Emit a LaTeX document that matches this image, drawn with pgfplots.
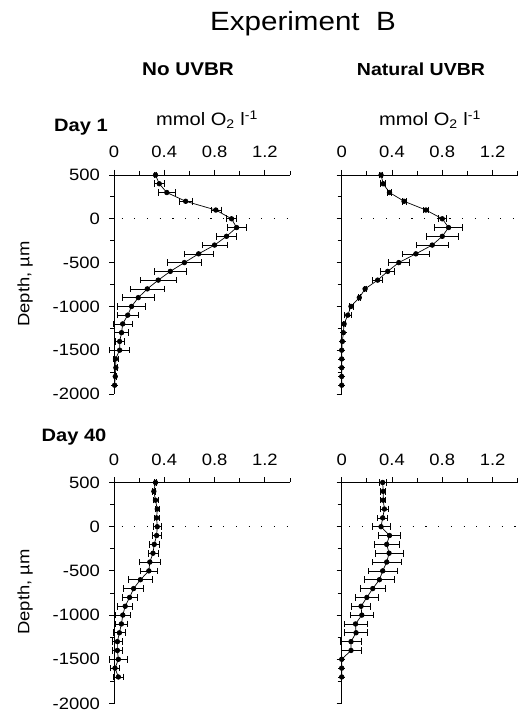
\documentclass[border=0pt]{standalone}
\usepackage{pgfplots}
\usepackage{pgfplotstable}
\pgfplotsset{compat=1.18}
\usepackage{fontspec}
\setmainfont{Liberation Sans}[FakeStretch=1.12]

\pgfplotstableread{
y x e
500 0.33 0.01
400 0.36 0.04
300 0.42 0.07
200 0.57 0.05
100 0.81 0.04
0 0.935 0.04
-100 0.975 0.075
-200 0.895 0.08
-300 0.80 0.10
-400 0.673 0.115
-500 0.56 0.135
-600 0.448 0.13
-700 0.352 0.14
-800 0.265 0.135
-900 0.193 0.13
-1000 0.14 0.11
-1100 0.109 0.085
-1200 0.069 0.075
-1300 0.06 0.055
-1400 0.045 0.035
-1500 0.045 0.08
-1600 0.012 0.02
-1700 0.015 0.01
-1800 0.01 0.01
-1900 0.005 0.0
}\dayoneno

\pgfplotstableread{
y x e
500 0.313 0.01
400 0.33 0.02
300 0.38 0.015
200 0.496 0.015
100 0.67 0.02
0 0.80 0.03
-100 0.85 0.11
-200 0.80 0.126
-300 0.72 0.125
-400 0.59 0.106
-500 0.454 0.086
-600 0.366 0.056
-700 0.286 0.04
-800 0.186 0.01
-900 0.14 0.01
-1000 0.074 0.015
-1100 0.048 0.03
-1200 0.019 0.01
-1300 0.013 0.0
-1400 0.005 0.0
-1500 0.0 0.0
-1600 0.0 0.0
-1700 0.0 0.0
-1800 0.0 0.0
-1900 0.0 0.0
}\dayonenat

\pgfplotstableread{
y x e
500 0.33 0.01
400 0.317 0.01
300 0.33 0.02
200 0.344 0.015
100 0.339 0.02
0 0.344 0.03
-100 0.339 0.035
-200 0.32 0.04
-300 0.31 0.04
-400 0.285 0.08
-500 0.277 0.07
-600 0.21 0.094
-700 0.156 0.08
-800 0.124 0.06
-900 0.089 0.06
-1000 0.07 0.06
-1100 0.059 0.05
-1200 0.043 0.05
-1300 0.027 0.04
-1400 0.027 0.04
-1500 0.035 0.07
-1600 0.008 0.035
-1700 0.035 0.04
}\dayfortyno

\pgfplotstableread{
y x e
500 0.326 0.03
400 0.33 0.02
300 0.33 0.02
200 0.34 0.03
100 0.326 0.04
0 0.313 0.073
-100 0.38 0.09
-200 0.358 0.10
-300 0.377 0.11
-400 0.358 0.117
-500 0.326 0.113
-600 0.30 0.12
-700 0.247 0.10
-800 0.20 0.09
-900 0.154 0.077
-1000 0.16 0.09
-1100 0.11 0.09
-1200 0.114 0.09
-1300 0.074 0.084
-1400 0.074 0.08
-1500 0.0 0.0
-1600 0.0 0.0
-1700 0.0 0.0
}\dayfortynat

\pgfplotsset{
  panel/.style={
    scale only axis, width=176bp,
    xmin=0, xmax=1.4, ymin=-2000, ymax=500,
    axis x line*=top, axis y line*=left,
    clip=false,
    xtick={0,0.4,0.8,1.2}, xticklabels={0,0.4,0.8,1.2},
    minor xtick={0.2,0.6,1.0,1.4},
    ytick={-2000,-1500,-1000,-500,0,500},
    yticklabels={-2000,-1500,-1000,-500,0,500},
    minor ytick={-1750,-1250,-750,-250,250},
    tick align=outside, major tick length=5bp, minor tick length=4bp,
    every tick/.style={black, line width=0.8bp},
    axis line style={black, line width=0.8bp},
    xticklabel style={font=\fontsize{16.5}{18}\selectfont, anchor=base, inner sep=0pt, yshift=12bp},
    yticklabel style={font=\fontsize{16.5}{18}\selectfont, anchor=east, inner sep=0pt, xshift=-9bp},
  },
  prof/.style={black, line width=0.7bp, mark=*, mark size=2.3bp,
    error bars/.cd, x dir=both, x explicit,
    error bar style={line width=0.6bp},
    error mark=|,
    error mark options={mark size=3.3bp, line width=0.6bp}},
}

\begin{document}
\begin{tikzpicture}
\useasboundingbox (0,0) rectangle (519bp,712bp);

\node[anchor=base, font=\fontsize{26.5}{30}\selectfont] at (303bp,681.3bp) {Experiment\ \ B};
\node[anchor=base, font=\fontsize{18.5}{20}\selectfont\bfseries] at (188bp,636bp) {No UVBR};
\node[anchor=base, font=\fontsize{17.5}{20}\selectfont\bfseries] at (421bp,636bp) {Natural UVBR};
\node[anchor=base, font=\fontsize{18}{20}\selectfont\bfseries] at (81bp,580.3bp) {Day 1};
\node[anchor=base, font=\fontsize{18}{20}\selectfont\bfseries] at (74bp,270.3bp) {Day 40};
\node[anchor=base, font=\fontsize{18}{20}\selectfont] at (207bp,586bp) {mmol O\textsubscript{2} l\textsuperscript{-1}};
\node[anchor=base, font=\fontsize{18}{20}\selectfont] at (430bp,586bp) {mmol O\textsubscript{2} l\textsuperscript{-1}};
\node[rotate=90, font=\fontsize{16.5}{20}\selectfont] at (25bp,428bp) {Depth, µm};
\node[rotate=90, font=\fontsize{16.5}{20}\selectfont] at (25bp,120bp) {Depth, µm};

\begin{axis}[panel, height=219bp, at={(114bp,318bp)}, anchor=south west]
\addplot[black, line width=0.6bp, dash pattern=on 1.2bp off 11.5bp] coordinates {(0.06,0) (1.4,0)};
\addplot[prof] table[x=x, y=y, x error=e] {\dayoneno};
\end{axis}

\begin{axis}[panel, height=219bp, at={(341.7bp,318bp)}, anchor=south west, yticklabels={}]
\addplot[black, line width=0.6bp, dash pattern=on 1.2bp off 11.5bp] coordinates {(0.15,0) (1.4,0)};
\addplot[prof] table[x=x, y=y, x error=e] {\dayonenat};
\end{axis}

\begin{axis}[panel, height=221bp, at={(114bp,8.5bp)}, anchor=south west]
\addplot[black, line width=0.6bp, dash pattern=on 1.2bp off 11.5bp] coordinates {(0.06,0) (1.4,0)};
\addplot[prof] table[x=x, y=y, x error=e] {\dayfortyno};
\end{axis}

\begin{axis}[panel, height=221bp, at={(341.7bp,8.5bp)}, anchor=south west, yticklabels={}]
\addplot[black, line width=0.6bp, dash pattern=on 1.2bp off 11.5bp] coordinates {(0.06,0) (1.4,0)};
\addplot[prof] table[x=x, y=y, x error=e] {\dayfortynat};
\end{axis}
\end{tikzpicture}
\end{document}
